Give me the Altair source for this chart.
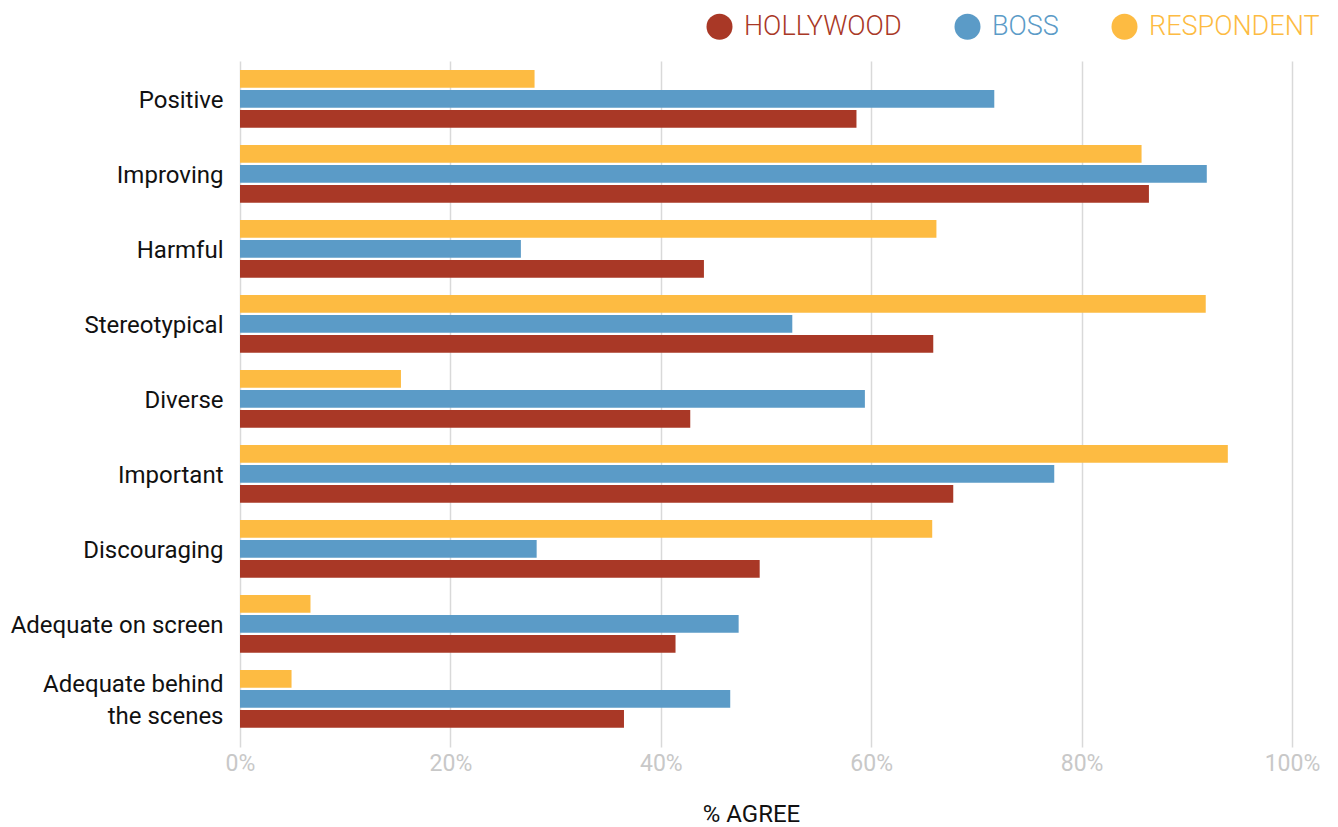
import altair as alt
import pandas as pd

categories = ["Positive", "Improving", "Harmful", "Stereotypical", "Diverse",
              "Important", "Discouraging", "Adequate on screen", "Adequate behind the scenes"]
series = ["HOLLYWOOD", "BOSS", "RESPONDENT"]
hollywood = [58.6, 86.4, 44.1, 65.9, 42.8, 67.8, 49.4, 41.4, 36.5]
boss = [71.7, 91.9, 26.7, 52.5, 59.4, 77.4, 28.2, 47.4, 46.6]
respondent = [28.0, 85.7, 66.2, 91.8, 15.3, 93.9, 65.8, 6.7, 4.9]
colors = ["#a93826", "#5b9bc7", "#fdbb42"]
x_ticks = [0, 20, 40, 60, 80, 100]

rows = []
for name, vals in zip(series, [hollywood, boss, respondent]):
    for c, v in zip(categories, vals):
        rows.append({"category": c, "series": name, "value": v})
df = pd.DataFrame(rows)

label_color_expr = " : ".join(
    f"datum.label == '{s}' ? '{c}'" for s, c in zip(series[:-1], colors[:-1])
) + f" : '{colors[-1]}'"

chart = alt.Chart(df).mark_bar().encode(
    x=alt.X("value:Q", scale=alt.Scale(domain=[0, 100]),
            axis=alt.Axis(values=x_ticks, labelExpr="datum.value + '%'", title="% AGREE",
                          grid=True, gridColor="#d9d9d9", gridWidth=1.5, domain=False, ticks=False,
                          labelFlush=False,
                          labelColor="#c8c8c8", labelFontSize=23, labelPadding=5,
                          titleFontSize=24, titleColor="#111111", titleFontWeight="normal",
                          titleBaseline="alphabetic", titleX=511, titleY=74)),
    y=alt.Y("category:N", sort=categories,
            scale=alt.Scale(paddingInner=0.2307, paddingOuter=0.1887, align=0.318),
            axis=alt.Axis(title=None, domain=False, ticks=False, labelFontSize=24,
                          labelColor="#111111", labelPadding=17, labelLineHeight=32,
                          labelLimit=400,
                          labelOffset={"expr": "datum.value == 'Adequate behind the scenes' ? -14 : 2"},
                          labelExpr="datum.label == 'Adequate behind the scenes' ? ['Adequate behind', 'the scenes'] : datum.label")),
    yOffset=alt.YOffset("series:N", sort=["RESPONDENT", "BOSS", "HOLLYWOOD"],
                        scale=alt.Scale(paddingInner=0.115, paddingOuter=0)),
    color=alt.Color("series:N", scale=alt.Scale(domain=series, range=colors),
                    legend=alt.Legend(title=None, orient="none", legendX=466, legendY=-48,
                                      direction="horizontal", symbolType="circle",
                                      symbolSize=676, symbolOpacity=1, symbolStrokeWidth=0,
                                      labelFontSize=27, labelFontWeight=300, labelLimit=400,
                                      labelColor={"expr": label_color_expr},
                                      columnPadding=52, labelOffset=11)),
).properties(
    width=1052, height=686,
    autosize=alt.AutoSizeParams(type="none"),
    padding={"left": 240, "top": 61, "right": 46, "bottom": 80},
).configure(font="Roboto").configure_view(stroke=None)

chart.save("out.html", embed_options={"renderer": "svg", "actions": False})
